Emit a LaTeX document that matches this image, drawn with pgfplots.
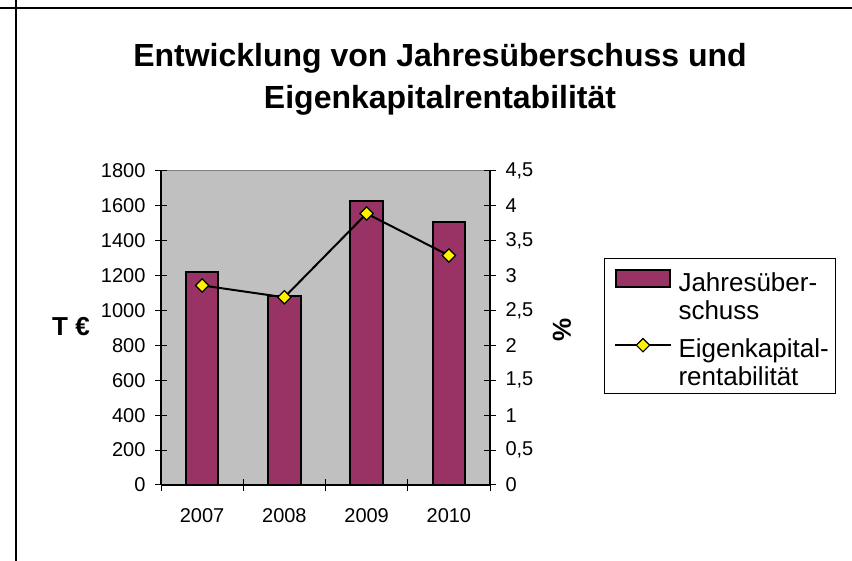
\documentclass[border=0pt]{standalone}
\usepackage{pgfplots}
\pgfplotsset{compat=1.18}
\usepackage{fontspec}
\setmainfont{Liberation Sans}
\definecolor{plum}{HTML}{993366}
\definecolor{plotgray}{HTML}{C0C0C0}
\pgfplotsset{
  barlegend/.style={legend image code/.code={\path[draw=none,fill=none] (0bp,-27bp) rectangle (55.7bp,27bp); \draw[##1] (1bp,2.25bp) rectangle (55bp,18.75bp);}},
  linelegend/.style={legend image code/.code={\path[draw=none,fill=none] (0bp,-27bp) rectangle (55.7bp,27bp); \draw[mark repeat=2, mark phase=2, ##1] plot coordinates {(0bp,10.5bp) (27.8bp,10.5bp) (55.7bp,10.5bp)};}},
}
\begin{document}
\begin{tikzpicture}[font=\fontsize{20bp}{28bp}\selectfont]
\useasboundingbox (0bp,0bp) rectangle (852bp,561bp);
\draw[line width=1.2bp] (0bp,553bp) -- (852bp,553bp);
\draw[line width=1.2bp] (16bp,0bp) -- (16bp,561bp);
\node[anchor=base, font=\fontsize{32bp}{42bp}\selectfont\bfseries] at (440bp,494bp) {Entwicklung von Jahresüberschuss und};
\node[anchor=base, font=\fontsize{32bp}{42bp}\selectfont\bfseries] at (440bp,452bp) {Eigenkapitalrentabilität};
\node[font=\fontsize{26bp}{30bp}\selectfont\bfseries] at (71bp,234bp) {T €};
\node[rotate=90, font=\fontsize{26bp}{30bp}\selectfont\bfseries] at (562bp,231bp) {\%};
\draw[line width=1bp] (604bp,167bp) rectangle (835bp,302bp);
\begin{axis}[
  scale only axis, width=329bp, height=314bp,
  at={(161bp,76bp)}, anchor=south west,
  xmin=-0.5, xmax=3.5, ymin=0, ymax=1800,
  axis background/.style={fill=plotgray, draw=gray, line width=1bp},
  axis y line*=left, axis x line*=bottom,
  axis line style={black, line width=1.5bp, -},
  ytick={0,200,...,1800},
  tick align=center, major tick length=12bp,
  tick style={black, line width=1bp},
  xtick={-0.5,0.5,1.5,2.5,3.5}, xticklabels={},
  extra x ticks={0,1,2,3}, extra x tick labels={2007,2008,2009,2010},
  extra x tick style={major tick length=0bp},
  /pgf/number format/assume math mode=true,
  /pgf/number format/1000 sep={},
  ticklabel style={font=\fontsize{20bp}{28bp}\selectfont},
  yticklabel style={anchor=east, xshift=-6bp},
  xticklabel style={anchor=base, yshift=-38bp},
]
\addplot[ybar, bar width=32.6bp, fill=plum, draw=black, line width=2bp]
  coordinates {(0,1220) (1,1085) (2,1626) (3,1509)};
\end{axis}
\begin{axis}[
  scale only axis, width=329bp, height=314bp,
  at={(161bp,76bp)}, anchor=south west,
  xmin=-0.5, xmax=3.5, ymin=0, ymax=4.5,
  axis y line*=right, axis x line=none,
  axis line style={black, line width=1.5bp, -},
  ytick={0,0.5,...,4.5},
  tick align=center, major tick length=12bp,
  tick style={black, line width=1bp},
  /pgf/number format/assume math mode=true,
  /pgf/number format/use comma,
  ticklabel style={font=\fontsize{20bp}{28bp}\selectfont},
  yticklabel style={anchor=west, xshift=6bp},
  legend cell align=left,
  legend style={at={(1.3465,0.7101)}, anchor=north west, draw=none, fill=none,
    inner xsep=10bp, inner ysep=0bp, row sep=12.5bp, column sep=6.6bp,
    nodes={inner sep=0bp}, font=\fontsize{26bp}{28.4bp}\selectfont},
]
\addlegendimage{fill=plum, draw=black, line width=2bp, barlegend}
\addplot[black, line width=2bp, mark=square*, mark size=4.7bp,
  mark options={fill=yellow, draw=black, rotate=45, line width=1.2bp}, linelegend]
  coordinates {(0,2.86) (1,2.69) (2,3.89) (3,3.29)};
\legend{{\begin{tabular}{@{}l@{}}Jahresüber-\\schuss\end{tabular}},{\begin{tabular}{@{}l@{}}Eigenkapital-\\rentabilität\end{tabular}}}
\end{axis}
\end{tikzpicture}
\end{document}
